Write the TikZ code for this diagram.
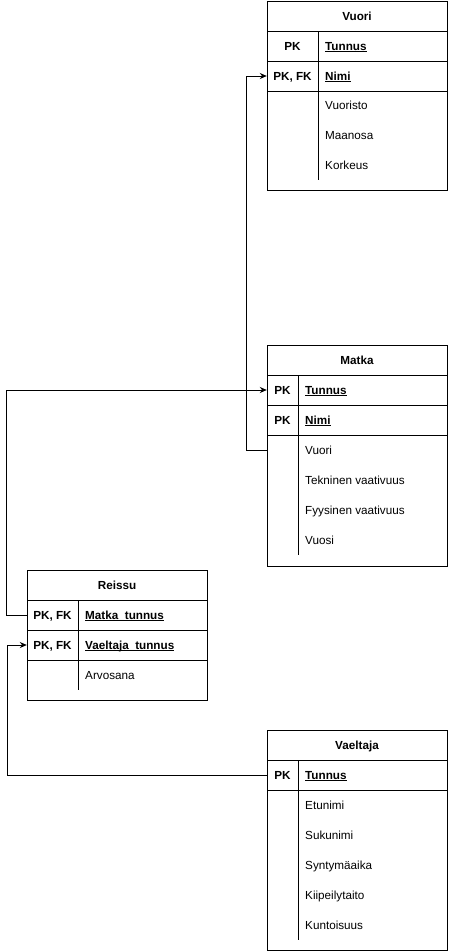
\documentclass[tikz,border=0pt]{standalone}
\usepackage{fontspec}
\setmainfont{Liberation Sans}
\usetikzlibrary{arrows.meta}
\newcommand\myul[1]{\setbox0=\hbox{#1}\rlap{\rule[-1.8pt]{\wd0}{0.9pt}}\box0}
\begin{document}
\begin{tikzpicture}[x=1pt,y=-1pt,
  every node/.style={font=\fontsize{11.7}{13}\selectfont, text height=10pt, text depth=2pt},
  tbl/.style={draw, line width=1pt, anchor=north west, minimum width=180pt, inner sep=0pt, text height=, text depth=},
  sep/.style={line width=1pt},
  hdr/.style={font=\fontsize{11.7}{13}\selectfont\bfseries},
  keyw/.style={font=\fontsize{11.7}{13}\selectfont\bfseries, minimum height=30pt, inner sep=0pt},
  fld/.style={anchor=west, inner sep=0pt},
  fldk/.style={fld, font=\fontsize{11.7}{13}\selectfont\bfseries},
  conn/.style={line width=1pt, -{Stealth[length=7pt,width=6pt]}}]
\useasboundingbox (0,0) rectangle (448,951);

% ---------- Vuori ----------
\node[tbl, minimum height=189pt] (vuori) at (267,1) {};
\draw[sep] (267,31) -- (447,31) (267,61) -- (447,61) (267,91) -- (447,91);
\draw[sep] (318,31) -- (318,180);
\node[hdr] (vuori-h) at (357,16) {Vuori};
\node[keyw, minimum width=51pt] (vuori-k1) at (292.5,46) {PK};
\node[keyw, minimum width=51pt] (vuori-k2) at (292.5,76) {PK, FK};
\node[fldk] (vuori-f1) at (325,46) {\myul{Tunnus}};
\node[fldk] (vuori-f2) at (325,76) {\myul{Nimi}};
\node[fld] (vuori-f3) at (325,105) {Vuoristo};
\node[fld] (vuori-f4) at (325,135) {Maanosa};
\node[fld] (vuori-f5) at (325,165) {Korkeus};

% ---------- Matka ----------
\node[tbl, minimum height=221pt] (matka) at (267,345) {};
\draw[sep] (267,375) -- (447,375) (267,405) -- (447,405) (267,435) -- (447,435);
\draw[sep] (298,375) -- (298,555);
\node[hdr] (matka-h) at (357,360) {Matka};
\node[keyw, minimum width=31pt] (matka-k1) at (282.5,390) {PK};
\node[keyw, minimum width=31pt] (matka-k2) at (282.5,420) {PK};
\node[keyw, minimum width=31pt] (matka-k3) at (282.5,450) {};
\node[fldk] (matka-f1) at (305,390) {\myul{Tunnus}};
\node[fldk] (matka-f2) at (305,420) {\myul{Nimi}};
\node[fld] (matka-f3) at (305,450) {Vuori};
\node[fld] (matka-f4) at (305,480) {Tekninen vaativuus};
\node[fld] (matka-f5) at (305,510) {Fyysinen vaativuus};
\node[fld] (matka-f6) at (305,540) {Vuosi};

% ---------- Reissu ----------
\node[tbl, minimum height=130pt] (reissu) at (27,570) {};
\draw[sep] (27,600) -- (207,600) (27,630) -- (207,630) (27,660) -- (207,660);
\draw[sep] (78,600) -- (78,690);
\node[hdr] (reissu-h) at (117,585) {Reissu};
\node[keyw, minimum width=51pt] (reissu-k1) at (52.5,615) {PK, FK};
\node[keyw, minimum width=51pt] (reissu-k2) at (52.5,645) {PK, FK};
\node[fldk] (reissu-f1) at (85,615) {\myul{Matka\_tunnus}};
\node[fldk] (reissu-f2) at (85,645) {\myul{Vaeltaja\_tunnus}};
\node[fld] (reissu-f3) at (85,675) {Arvosana};

% ---------- Vaeltaja ----------
\node[tbl, minimum height=220pt] (vaeltaja) at (267,730) {};
\draw[sep] (267,760) -- (447,760) (267,790) -- (447,790);
\draw[sep] (298,760) -- (298,940);
\node[hdr] (vaeltaja-h) at (357,745) {Vaeltaja};
\node[keyw, minimum width=31pt] (vaeltaja-k1) at (282.5,775) {PK};
\node[fldk] (vaeltaja-f1) at (305,775) {\myul{Tunnus}};
\node[fld] (vaeltaja-f2) at (305,805) {Etunimi};
\node[fld] (vaeltaja-f3) at (305,835) {Sukunimi};
\node[fld] (vaeltaja-f4) at (305,865) {Syntymäaika};
\node[fld] (vaeltaja-f5) at (305,895) {Kiipeilytaito};
\node[fld] (vaeltaja-f6) at (305,925) {Kuntoisuus};

% ---------- Connectors ----------
\draw[conn] (matka-k3.west) -- ++(-20,0) |- (vuori-k2.west);
\draw[conn] (reissu-k1.west) -- ++(-20,0) |- (matka-k1.west);
\draw[conn] (vaeltaja-k1.west) -| (7,645) -- (reissu-k2.west);
\end{tikzpicture}
\end{document}
